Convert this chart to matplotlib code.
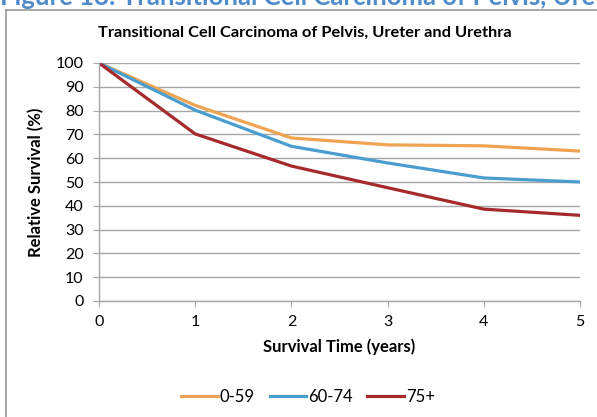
import matplotlib
matplotlib.use("Agg")
import matplotlib.pyplot as plt
from matplotlib.lines import Line2D

years = [0, 1, 2, 3, 4, 5]
age_groups = ["0-59", "60-74", "75+"]
survival_0_59 = [100, 82.2, 68.5, 65.6, 65.2, 63.0]
survival_60_74 = [100, 80.2, 65.0, 58.0, 51.7, 50.0]
survival_75_plus = [100, 70.2, 56.7, 47.6, 38.6, 36.0]
y_ticks = list(range(0, 101, 10))

colors = ["#EEA452", "#4A9DCF", "#A62A2C"]
series = [survival_0_59, survival_60_74, survival_75_plus]

font = ["Lato", "DejaVu Sans"]
plt.rcParams["font.family"] = font

W, H = 597, 417
fig = plt.figure(figsize=(W / 100, H / 100), dpi=100)
fig.patch.set_facecolor("white")

# heading from the surrounding document, cut by the top edge
fig.text(0 / W, 1 + 15 / H, "Figure 18: Transitional Cell Carcinoma of Pelvis, Ureter and Urethra",
         color="#4F8BC9", fontsize=18.5, fontweight="bold", ha="left", va="top")

# chart frame
fig.add_artist(Line2D([6 / W, 6 / W], [0, 1 - 10 / H], transform=fig.transFigure,
                      color="#9A9A9A", lw=1.2))
fig.add_artist(Line2D([6 / W, 1], [1 - 10 / H, 1 - 10 / H], transform=fig.transFigure,
                      color="#9A9A9A", lw=1.2))

ax = fig.add_axes([99 / W, (H - 301) / H, (580 - 99) / W, (301 - 63) / H])
for vals, c, lab in zip(series, colors, age_groups):
    ax.plot(years, vals, color=c, lw=2.3, label=lab, solid_joinstyle="round")

ax.set_xlim(0, 5)
ax.set_ylim(0, 100)
ax.set_yticks(y_ticks)
ax.set_xticks(years)
ax.grid(axis="y", color="#A6A6A6", lw=1)
ax.set_axisbelow(True)
for s in ["top", "right"]:
    ax.spines[s].set_visible(False)
for s in ["left", "bottom"]:
    ax.spines[s].set_color("#A6A6A6")
    ax.spines[s].set_linewidth(1)
ax.tick_params(axis="both", colors="#A6A6A6", labelcolor="black", labelsize=11.5, length=4)
ax.tick_params(axis="y", pad=7)
ax.tick_params(axis="x", pad=6)

ax.set_xlabel("Survival Time (years)", fontsize=12, fontweight="bold", labelpad=7)
ax.set_ylabel("Relative Survival (%)", fontsize=12, fontweight="bold", labelpad=8)

fig.text(305 / W, 1 - 33 / H, "Transitional Cell Carcinoma of Pelvis, Ureter and Urethra",
         fontsize=11.8, fontweight="bold", ha="center", va="center")

fig.legend(loc="center", bbox_to_anchor=(308 / W, 1 - 397 / H), ncol=3, frameon=False,
           fontsize=12, handlelength=2.2, handletextpad=0.1, columnspacing=0.9)

fig.savefig("out.png", dpi=100, facecolor="white")
